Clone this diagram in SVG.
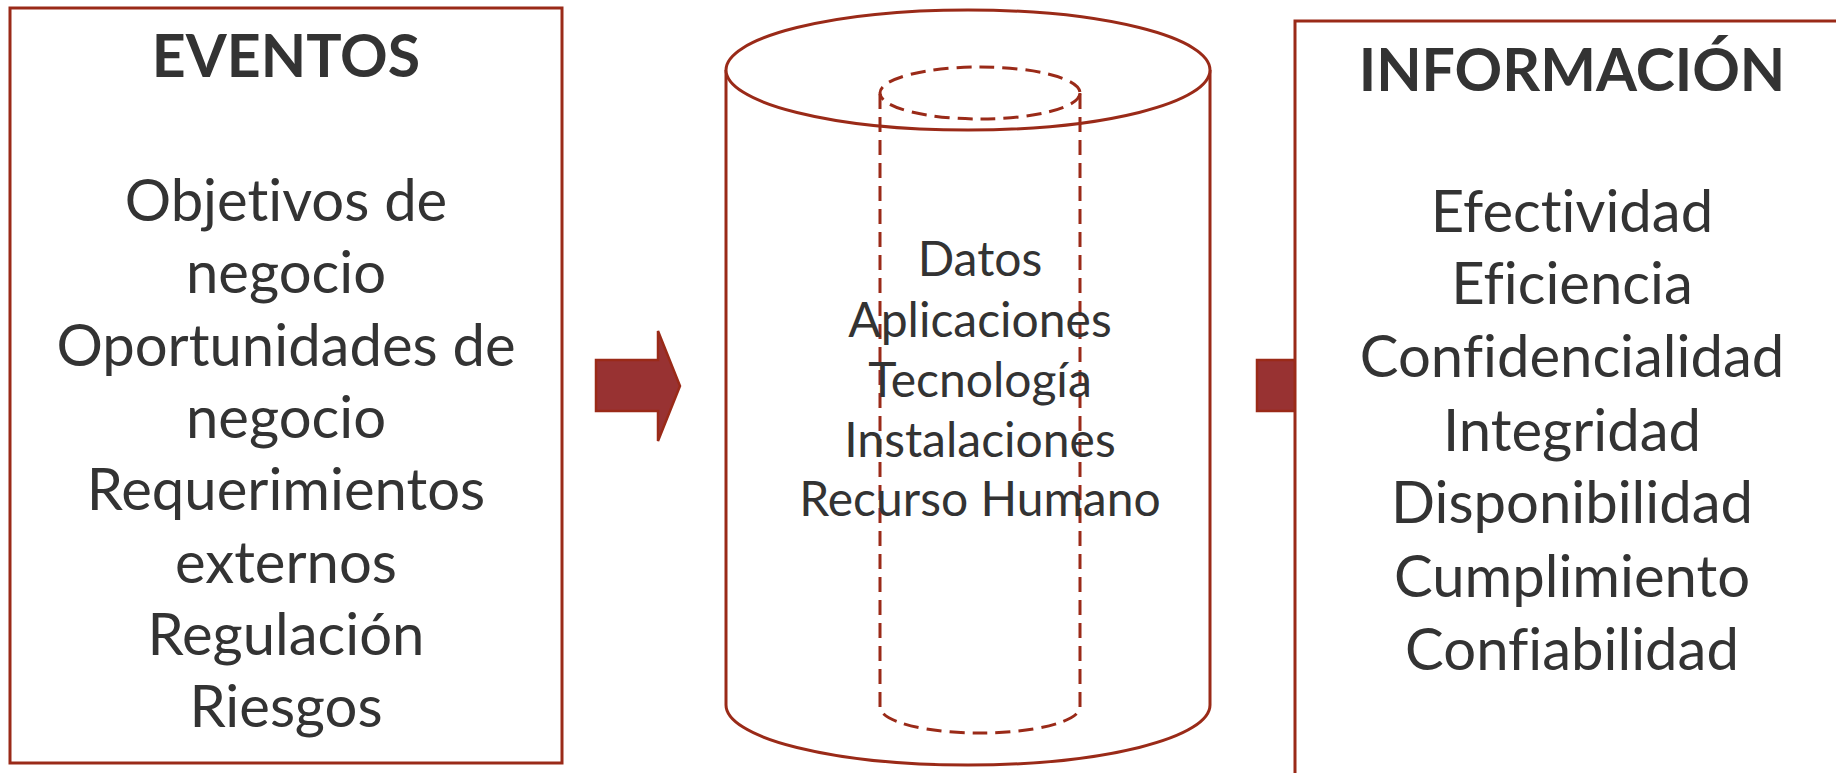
<svg xmlns="http://www.w3.org/2000/svg" width="1836" height="773" viewBox="0 0 1836 773">
<style>
.box{fill:#ffffff;stroke:#9a2a18;stroke-width:3}
.cyl{fill:#ffffff;stroke:#9a2a18;stroke-width:3}
.dash{fill:none;stroke:#9a2a18;stroke-width:3;stroke-dasharray:15 8}
.arrow{fill:#983232;stroke:#9a2a18;stroke-width:2.5}
.t{font-family:Lato,"Open Sans",sans-serif;fill:#333333;text-anchor:middle;font-variant-ligatures:none}
.h{font-weight:bold;font-size:59px}
.l{font-size:58px}
.c{font-size:48px}
</style>
<rect width="1836" height="773" fill="#ffffff"/>
<g id="connectors">
<path class="arrow" d="M596,360 H658 V331 L680,386 L658,441 V411 H596 Z"/>
<path class="arrow" d="M1257,360 H1320 V411 H1257 Z"/>
</g>
<g id="eventos">
<rect class="box" x="10" y="8" width="552" height="755"/>
<text class="t h" x="286" y="77">EVENTOS</text>
<text class="t l" x="286" y="221">Objetivos de</text>
<text class="t l" x="286" y="293">negocio</text>
<text class="t l" x="286" y="366">Oportunidades de</text>
<text class="t l" x="286" y="438">negocio</text>
<text class="t l" x="286" y="510">Requerimientos</text>
<text class="t l" x="286" y="583">externos</text>
<text class="t l" x="286" y="655">Regulación</text>
<text class="t l" x="286" y="727">Riesgos</text>
</g>
<g id="recursos">
<path class="cyl" d="M726,70 V705 A242,60 0 0 0 1210,705 V70"/>
<ellipse class="cyl" cx="968" cy="70" rx="242" ry="60"/>
<path class="dash" d="M880,94 V707 A100,26 0 0 0 1080,707 V94"/>
<ellipse class="dash" cx="980" cy="93" rx="100" ry="26"/>
<text class="t c" x="980" y="276">Datos</text>
<text class="t c" x="980" y="337">Aplicaciones</text>
<text class="t c" x="980" y="397">Tecnología</text>
<text class="t c" x="980" y="457">Instalaciones</text>
<text class="t c" x="980" y="516">Recurso Humano</text>
</g>
<g id="informacion">
<rect class="box" x="1295" y="21" width="600" height="800"/>
<text class="t h" x="1572" y="91">INFORMACIÓN</text>
<text class="t l" x="1572" y="232">Efectividad</text>
<text class="t l" x="1572" y="304">Eficiencia</text>
<text class="t l" x="1572" y="377">Confidencialidad</text>
<text class="t l" x="1572" y="451">Integridad</text>
<text class="t l" x="1572" y="523">Disponibilidad</text>
<text class="t l" x="1572" y="597">Cumplimiento</text>
<text class="t l" x="1572" y="670">Confiabilidad</text>
</g>
</svg>
